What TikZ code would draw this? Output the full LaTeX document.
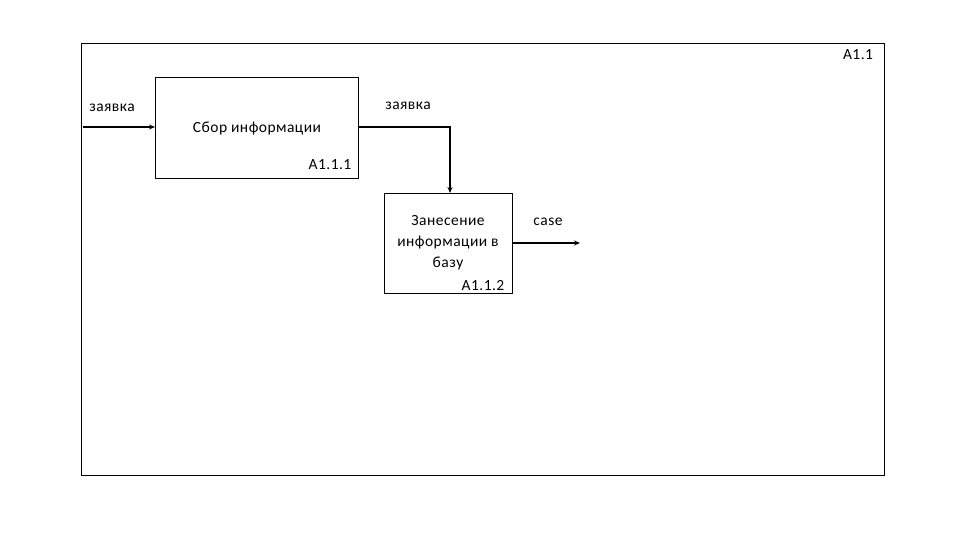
\documentclass[tikz,border=0pt]{standalone}
\usepackage{fontspec}
\setmainfont{Carlito}[LetterSpace=3]
\usetikzlibrary{arrows.meta}
\begin{document}
\begin{tikzpicture}[x=1pt,y=-1pt,
  box/.style={draw,line width=0.8pt},
  flow/.style={draw,line width=1.3pt,-{Stealth[length=6pt,width=5pt]}},
  lbl/.style={font=\fontsize{15.5}{21}\selectfont,inner sep=0pt}]
\useasboundingbox (0,0) rectangle (960,540);
\draw[box] (81,43) rectangle (884,475);
\node[box,minimum width=203pt,minimum height=101pt,anchor=north west] (b1) at (155,77) {};
\node[box,minimum width=128pt,minimum height=100pt,anchor=north west] (b2) at (384,193) {};
\node[lbl] (t0) at (858,55) {A1.1};
\node[lbl] (t1) at (112,108) {заявка};
\node[lbl] (t2) at (257,128) {Сбор информации};
\node[lbl] (t3) at (330,165) {A1.1.1};
\node[lbl] (t4) at (408,106) {заявка};
\node[lbl,align=center] (t5) at (448,243) {Занесение\\информации в\\базу};
\node[lbl] (t6) at (483,286) {A1.1.2};
\node[lbl] (t7) at (548,222) {case};
\coordinate (in) at (83,127);
\coordinate (out) at (580,243);
\draw[flow] (in) -- (b1.west |- in);
\draw[flow] (b1.east |- in) -| (b2.north -| 450,0);
\draw[flow] (b2.east |- out) -- (out);
\end{tikzpicture}
\end{document}
